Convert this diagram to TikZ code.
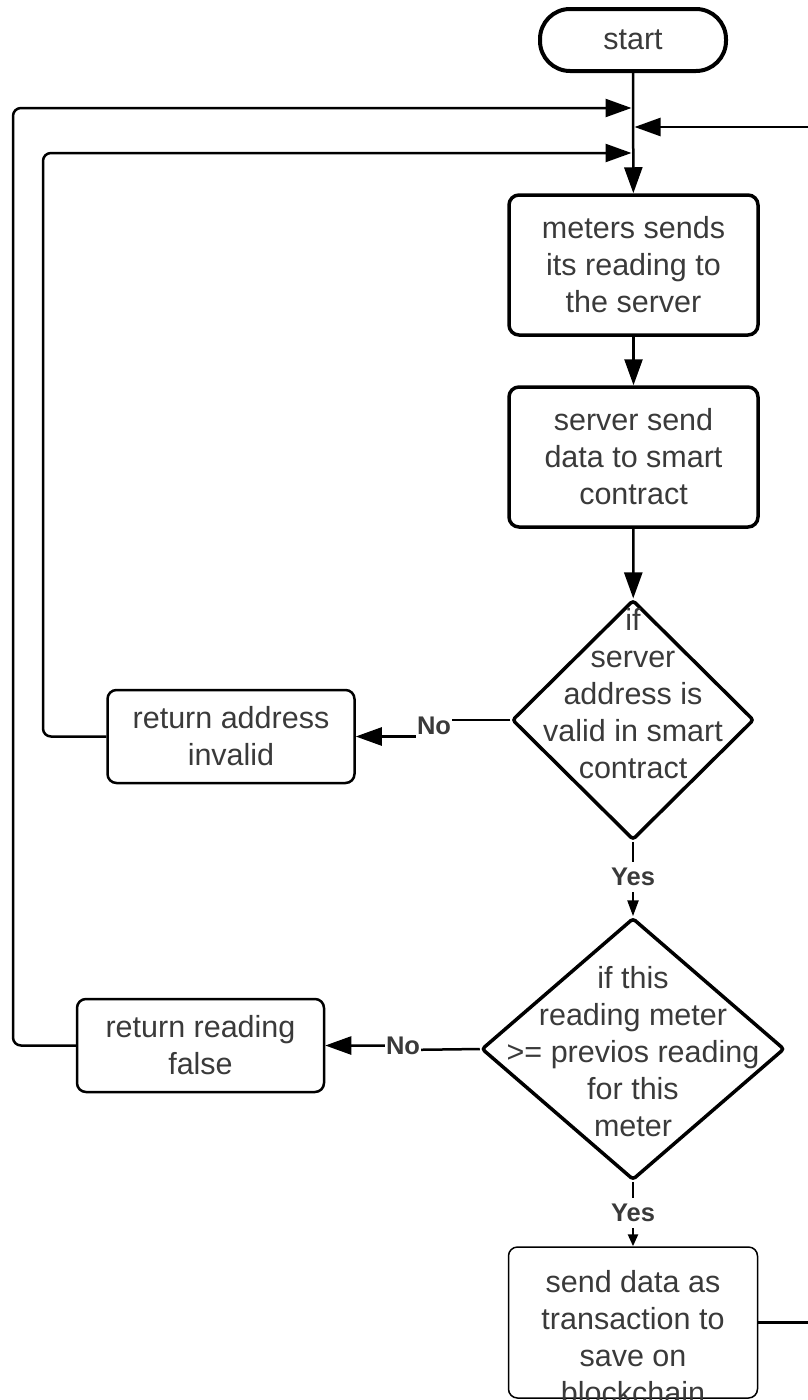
\documentclass[tikz,border=0pt]{standalone}
\usepackage{fontspec}
\setmainfont{Liberation Sans}
\usetikzlibrary{arrows.meta,shapes.geometric}
\definecolor{ink}{HTML}{3A3A3A}
\begin{document}
\begin{tikzpicture}[x=1pt,y=-1pt,
  txt/.style={font=\fontsize{30.5}{37}\selectfont, text=ink, align=center, inner sep=0pt},
  lbl/.style={font=\fontsize{25.5}{28}\selectfont\bfseries, text=ink, fill=white, inner xsep=1pt, inner ysep=6pt},
  terminal/.style={draw, line width=4pt, rounded corners=30pt, minimum width=186pt, minimum height=62pt, txt},
  stepbox/.style={draw, line width=3.5pt, rounded corners=10pt, minimum width=249pt, minimum height=140pt, txt},
  failbox/.style={draw, line width=2.5pt, rounded corners=9pt, minimum width=247pt, minimum height=93pt, txt},
  savebox/.style={draw, line width=1.5pt, rounded corners=9pt, minimum width=249pt, minimum height=151pt, txt},
  decision/.style={draw, diamond, line width=3.5pt, rounded corners=3pt, inner sep=0pt, shape aspect=1},
  conn/.style={draw, line width=2.5pt},
  bigtip/.style={-{Triangle[length=26pt,width=18pt]}},
  smalltip/.style={-{Triangle[length=16pt,width=11pt]}},
  tinytip/.style={-{Triangle[length=12pt,width=10pt]}}
]
\useasboundingbox (0,0) rectangle (808,1400);
\clip (0,0) rectangle (808,1400);

% main column
\node[terminal] (start) at (633,40) {start};
\node[stepbox] (b1) at (633.5,265) {meters sends\\its reading to\\the server};
\node[stepbox] (b2) at (633.5,457) {server send\\data to smart\\contract};

\node[decision, minimum width=242pt, minimum height=240pt] (d1) at (633,720) {};
\node[txt] (d1t) at (633,694) {if\\server\\address is\\valid in smart\\contract};

\node[decision, minimum width=303pt, minimum height=262pt] (d2) at (633,1049) {};
\node[txt] (d2t) at (633,1052) {if this\\reading meter\\>= previos reading\\for this\\meter};

\node[savebox] (b5) at (633,1322.5) {};
\node[txt] (b5t) at (633,1337) {send data as\\transaction to\\save on\\blockchain};

% side boxes
\node[failbox] (b3) at (231,736.5) {return address\\invalid};
\node[failbox] (b4) at (200.5,1045.5) {return reading\\false};

% junction points on the main line and loop corners
\coordinate (jA) at (631.5,108);
\coordinate (jB) at (634.5,127);
\coordinate (jC) at (631.5,153);
\coordinate (cA1) at (13,1045.5);
\coordinate (cA2) at (13,108);
\coordinate (cC1) at (43,736.5);
\coordinate (cC2) at (43,153);
\coordinate (cB1) at (840,1322.5);
\coordinate (cB2) at (840,127);
\coordinate (n1a) at (434,720);
\coordinate (n1b) at (434,736.5);
\coordinate (n2a) at (403,1050);
\coordinate (n2b) at (403,1045.5);

% forward flow
\draw[conn, bigtip] (start) -- (b1);
\draw[conn, bigtip] (b1) -- (b2);
\draw[conn, bigtip] (b2) -- (d1);
\draw[conn, smalltip] (d1.south) -- node[lbl, pos=0.47] (y1) {Yes} (d2.north);
\draw[conn, tinytip] (d2.south) -- node[lbl, pos=0.48] (y2) {Yes} (b5.north);

% rejected branches
\draw[conn, bigtip] (d1.west) -- (n1a) -- (n1b) -- (b3.east);
\node[lbl] (no1) at (434,726) {No};
\draw[conn, bigtip] (d2.west) -- (n2a) -- (n2b) -- (b4.east);
\node[lbl] (no2) at (403,1046) {No};

% loops back to the top
\draw[conn, bigtip, rounded corners=8pt] (b3.west) -- (cC1) -- (cC2) -- (jC);
\draw[conn, bigtip, rounded corners=8pt] (b4.west) -- (cA1) -- (cA2) -- (jA);
\draw[conn, bigtip] (b5.east) -- (cB1) -- (cB2) -- (jB);
\end{tikzpicture}
\end{document}
